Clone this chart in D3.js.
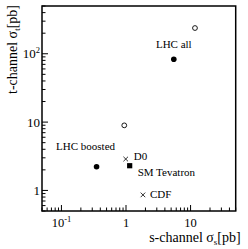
<!DOCTYPE html>
<html>
<head>
<meta charset="utf-8">
<script src="https://cdn.jsdelivr.net/npm/d3@7"></script>
<style>
  body { margin: 0; background: #fff; }
</style>
</head>
<body>
<svg id="chart"></svg>
<script>
// data (s-channel, t-channel cross sections in pb)
var filledNames = ["LHC all", "LHC boosted"];
var filledS = [5.5, 0.35];
var filledT = [83, 2.22];

var openS = [11.7, 0.94];
var openT = [238, 8.96];

var crossNames = ["D0", "CDF"];
var crossS = [0.99, 1.83];
var crossT = [2.88, 0.86];

var squareNames = ["SM Tevatron"];
var squareS = [1.14];
var squareT = [2.3];

var xMajor = [0.1, 1, 10];
var yMajor = [1, 10, 100];

var xLabel = "s-channel σ";
var yLabel = "t-channel σ";

var FONT = "'Liberation Serif', 'Times New Roman', 'DejaVu Serif', serif";

// set the dimensions and margins of the graph
var margin = {top: 6, right: 12.3, bottom: 38, left: 42},
    width = 248 - margin.left - margin.right,
    height = 249 - margin.top - margin.bottom;

var svg = d3.select("#chart")
    .attr("width", 248)
    .attr("height", 249)
    .attr("font-family", FONT)
    .append("g")
    .attr("transform", "translate(" + margin.left + "," + margin.top + ")");

var x = d3.scaleLog().domain([0.05, 50]).range([0, width]);
var y = d3.scaleLog().domain([0.5, 500]).range([height, 0]);

// minor ticks: 2..9 times each decade, inside the domain
function minorTicks(scale) {
    var d = scale.domain(), out = [];
    for (var p = -3; p <= 3; p++) {
        for (var m = 1; m <= 9; m++) {
            var v = m * Math.pow(10, p);
            if (v >= d[0] * 0.999 && v <= d[1] * 1.001) out.push(v);
        }
    }
    return out;
}

var xTicks = minorTicks(x);
var yTicks = minorTicks(y);

function isMajor(v) {
    var l = Math.log10(v);
    return Math.abs(l - Math.round(l)) < 1e-6;
}

// bottom ticks, pointing inward
svg.append("g")
    .selectAll("line")
    .data(xTicks)
    .enter()
    .append("line")
    .attr("x1", function (d) { return x(d); })
    .attr("x2", function (d) { return x(d); })
    .attr("y1", height)
    .attr("y2", function (d) { return height - (isMajor(d) ? 6 : 3.5); })
    .style("stroke", "#000")
    .style("stroke-width", 1);

// left ticks, pointing inward
svg.append("g")
    .selectAll("line")
    .data(yTicks)
    .enter()
    .append("line")
    .attr("y1", function (d) { return y(d); })
    .attr("y2", function (d) { return y(d); })
    .attr("x1", 0)
    .attr("x2", function (d) { return isMajor(d) ? 6 : 3.5; })
    .style("stroke", "#000")
    .style("stroke-width", 1);

// frame
svg.append("rect")
    .attr("x", 0)
    .attr("y", 0)
    .attr("width", width)
    .attr("height", height)
    .style("fill", "none")
    .style("stroke", "#000")
    .style("stroke-width", 1.5);

function powLabel(sel, v) {
    var p = Math.round(Math.log10(v));
    if (p === 0) { sel.text("1"); return; }
    if (p === 1) { sel.text("10"); return; }
    sel.append("tspan").text("10");
    sel.append("tspan").attr("dy", -5).style("font-size", "8.5px").text(p);
}

// x tick labels
svg.append("g")
    .selectAll("text")
    .data(xMajor)
    .enter()
    .append("text")
    .attr("x", function (d) { return x(d); })
    .attr("y", height + 15.5)
    .style("font-size", "12.5px")
    .style("text-anchor", "middle")
    .each(function (d) { powLabel(d3.select(this), d); });

// y tick labels
svg.append("g")
    .selectAll("text")
    .data(yMajor)
    .enter()
    .append("text")
    .attr("x", -2)
    .attr("y", function (d) { return y(d) + 4.5; })
    .style("font-size", "13px")
    .style("text-anchor", "end")
    .each(function (d) { powLabel(d3.select(this), d); });

// axis titles
var xt = svg.append("text")
    .attr("x", width + 5)
    .attr("y", height + 31)
    .style("font-size", "14px")
    .style("text-anchor", "end");
xt.append("tspan").text(xLabel);
xt.append("tspan").attr("dy", 3).style("font-size", "9px").text("s");
xt.append("tspan").attr("dy", -3).text("[pb]");

var yt = svg.append("text")
    .attr("transform", "translate(-25,-1) rotate(-90)")
    .style("font-size", "14px")
    .style("text-anchor", "end");
yt.append("tspan").text(yLabel);
yt.append("tspan").attr("dy", 3).style("font-size", "9px").text("t");
yt.append("tspan").attr("dy", -3).text("[pb]");

// open circles
svg.append("g")
    .selectAll("circle")
    .data(openS)
    .enter()
    .append("circle")
    .attr("cx", function (d) { return x(d); })
    .attr("cy", function (d, i) { return y(openT[i]); })
    .attr("r", 2.4)
    .style("fill", "#fff")
    .style("stroke", "#000")
    .style("stroke-width", 0.9);

// filled circles
svg.append("g")
    .selectAll("circle")
    .data(filledS)
    .enter()
    .append("circle")
    .attr("cx", function (d) { return x(d); })
    .attr("cy", function (d, i) { return y(filledT[i]); })
    .attr("r", 2.8)
    .style("fill", "#000");

// squares
svg.append("g")
    .selectAll("rect")
    .data(squareS)
    .enter()
    .append("rect")
    .attr("x", function (d) { return x(d) - 2.6; })
    .attr("y", function (d, i) { return y(squareT[i]) - 2.6; })
    .attr("width", 5.2)
    .attr("height", 5.2)
    .style("fill", "#000");

// crosses
svg.append("g")
    .selectAll("path")
    .data(crossS)
    .enter()
    .append("path")
    .attr("d", function (d, i) {
        var cx = x(d), cy = y(crossT[i]), s = 2.3;
        return "M" + (cx - s) + "," + (cy - s) + "L" + (cx + s) + "," + (cy + s) +
               "M" + (cx - s) + "," + (cy + s) + "L" + (cx + s) + "," + (cy - s);
    })
    .style("stroke", "#000")
    .style("stroke-width", 0.8)
    .style("fill", "none");

// point labels
svg.append("text").attr("x", x(filledS[0])).attr("y", y(filledT[0]) - 11)
    .style("font-size", "11px").style("text-anchor", "middle").text(filledNames[0]);
svg.append("text").attr("x", x(filledS[1]) - 11).attr("y", y(filledT[1]) - 16.5)
    .style("font-size", "11px").style("text-anchor", "middle").text(filledNames[1]);
svg.append("text").attr("x", x(crossS[0]) + 8).attr("y", y(crossT[0]) + 1)
    .style("font-size", "11px").text(crossNames[0]);
svg.append("text").attr("x", x(squareS[0]) + 8).attr("y", y(squareT[0]) + 10)
    .style("font-size", "11px").text(squareNames[0]);
svg.append("text").attr("x", x(crossS[1]) + 7).attr("y", y(crossT[1]) + 3.5)
    .style("font-size", "11px").text(crossNames[1]);
</script>
</body>
</html>
